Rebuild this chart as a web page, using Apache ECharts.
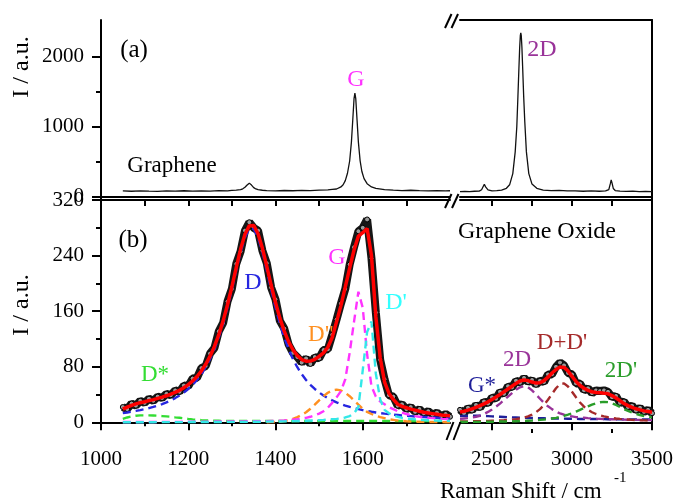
<!DOCTYPE html>
<html><head><meta charset="utf-8">
<script src="https://cdn.jsdelivr.net/npm/echarts@6/dist/echarts.min.js"></script>
<style>html,body{margin:0;padding:0;background:#fff}#c{width:679px;height:502px}</style>
</head><body><div id="c"></div>
<script>
// ---------- Panel (a): Graphene ----------
const grLx = [1050,1070,1090,1110,1130,1150,1170,1190,1210,1230,1250,1270,1290,1300,1310,1320,1325,1330,1335,1340,1345,1350,1355,1360,1370,1380,1400,1420,1440,1460,1480,1500,1520,1530,1540,1550,1555,1560,1565,1570,1574,1577,1580,1582,1584,1587,1590,1594,1598,1603,1610,1620,1630,1650,1670,1690,1710,1730,1750,1770,1790,1800];
const grLy = [82,78,84,80,77,83,79,85,80,84,81,87,84,90,94,101,113,135,168,194,166,130,111,100,92,87,84,89,85,90,87,94,98,104,110,140,170,230,335,510,780,1085,1400,1481,1400,1090,780,512,360,258,186,140,118,100,93,88,92,86,84,88,83,85];
const grRx = [2300,2330,2360,2390,2420,2435,2445,2452,2460,2475,2500,2530,2560,2590,2610,2630,2645,2655,2662,2668,2673,2677,2680,2683,2687,2692,2698,2705,2715,2730,2750,2780,2820,2870,2920,2970,3020,3070,3120,3170,3210,3230,3240,3245,3250,3258,3270,3300,3340,3380,3420,3460,3500];
const grRy = [74,77,72,78,80,100,145,177,140,98,84,86,95,120,170,330,640,1000,1432,1820,2130,2300,2340,2300,2132,1820,1433,1066,640,330,180,120,95,88,90,84,82,78,83,78,82,102,190,240,198,118,88,80,76,79,74,77,73];
const yTicksA = [0, 1000, 2000];
const yMinorA = [500, 1500];

// ---------- Panel (b): Graphene Oxide, 1000-1800 ----------
const xL = [1050,1060,1070,1080,1090,1100,1110,1120,1130,1140,1150,1160,1170,1180,1190,1200,1210,1220,1230,1240,1250,1260,1270,1280,1290,1300,1310,1320,1330,1340,1350,1360,1370,1380,1390,1400,1410,1420,1430,1440,1450,1460,1470,1480,1490,1500,1510,1520,1530,1540,1550,1560,1570,1580,1590,1600,1610,1620,1630,1640,1650,1660,1670,1680,1690,1700,1710,1720,1730,1740,1750,1760,1770,1780,1790,1800];
const expL = [22,19,27,24,31,28,34,31,37,35, 41,39,46,44,53,52,63,64,78,81, 99,107,131,143,174,192,228,246,276,288, 280,276,247,229,194,177,146,135,112,100, 94,86,92,84,94,92,104,105,126,148, 171,192,227,252,275,280,292,236,158,90, 62,39,37,24,26,19,22,15,19,13, 16,11,14,9,12,8];
const fitL = [18.9,21.8,24.3,26.6,28.3,29.6,31.2,32.7,34.5,36.2, 38.2,40.6,43.1,46.1,49.9,54.2,59.5,66.0,73.8,83.5, 95.2,109.2,126.1,146.0,169.2,195.1,222.7,249.2,270.7,283.1, 283.4,271.5,250.5,224.5,197.6,172.4,150.0,131.2,116.1,104.4, 96.0,90.4,88.0,88.1,90.6,95,100,108,122,145, 168,195,222,248,268,273,279,240,152,93, 58,42,33,26,23,21,19,17.5,16,14.5, 13.5,12.5,11.5,10.5,10,9.5];
const cD = [13.3,14.2,15.2,16.4,17.6,18.9,20.5,22.2,24.1,26.3, 28.8,31.6,34.9,38.6,43.0,48.0,54.0,61.0,69.3,79.3, 91.2,105.3,122.2,142.1,165.3,191.1,218.6,244.9,266.2,278.4, 278.4,266.2,244.9,218.6,191.1,165.3,142.1,122.2,105.3,91.2, 79.3,69.3,61.0,54.0,48.0,43.0,38.6,34.9,31.6,28.8, 26.3,24.1,22.2,20.5,18.9,17.6,16.4,15.2,14.2,13.3, 12.5,11.8,11.1,10.5,9.9,9.4,8.9,8.4,8.0,7.6, 7.2,6.9,6.6,6.3,6.0,5.8];
const cDstar = [5,7,8.5,9.5,10,10,10,9.8,9.5,9, 8.5,8,7.2,6.5,5.8,5,4.3,3.7,3.2,2.8, 2.5,2.3,2.2,2.1,2,2,2,2,2,2, 2,2,2,2,2,2,2,2,2,2, 2,2,2,2,2,2,2,2,2,2, 2,2,2,2,2,2,2,2,2,2, 2,2,2,2,2,2,2,2,2,2, 2,2,2,2,2,2];
const cDdd = [null,null,null,null,null,null,null,null,null,null, null,null,null,null,null,null,null,null,null,null, null,null,null,null,null,null,null,null,null,null, null,null,null,0.1,0.3,0.6,1.1,1.9,3.2,5, 7.5,10.5,14.5,19.5,25.4,31.7,37.6,42.6,45.9,47, 45.9,42.6,37.6,31.7,25.4,19.5,15,12,9.5,7.5, 6,4.5,3.5,2.5,2,1.5,1.2,1,0.8,0.6, 0.5,0.4,0.3,0.3,0.2,0.2];
const cG = [0.4,0.4,0.4,0.5,0.5,0.5,0.5,0.5,0.6,0.6, 0.6,0.7,0.7,0.7,0.8,0.8,0.8,0.9,0.9,1.0, 1.0,1.1,1.1,1.2,1.2,1.3,1.3,1.4,1.4,1.5, 1.5,1.6,1.7,1.8,1.9,2.0,2.3,2.7,3.2,3.8, 4.5,5.5,6.5,8,10,12.5,16,21,28,36, 45,62,100,145,188,165,98,52,37,30, 26,22,19,16,14,12,10.5,9,8,7, 6.5,6,5.5,5,4.6,4.3];
const cDp = [0.2,0.2,0.2,0.2,0.2,0.2,0.2,0.2,0.3,0.3, 0.3,0.3,0.3,0.3,0.3,0.4,0.4,0.4,0.4,0.4, 0.5,0.5,0.5,0.5,0.6,0.6,0.6,0.7,0.7,0.7, 0.8,0.8,0.9,1.0,1.1,1.2,1.3,1.4,1.5,1.7, 1.9,2.1,2.3,2.5,2.8,3.1,3.5,4.0,4.5,5, 5.7,7,9,13,22,75,130,145,70,33, 18,13,10,8,6.5,5.5,4.8,4.2,3.7,3.3, 3,2.7,2.5,2.3,2.1,2];

// ---------- Panel (b): Graphene Oxide, 2300-3500 ----------
const xR = [2300,2325,2350,2375,2400,2425,2450,2475,2500,2525,2550,2575,2600,2625,2650,2675,2700,2725,2750,2775,2800,2825,2850,2875,2900,2925,2950,2975,3000,3025,3050,3075,3100,3125,3150,3175,3200,3225,3250,3275,3300,3325,3350,3375,3400,3425,3450,3475,3500];
const expR = [18,13,21,17,25,21,30,27,36,34, 44,41,52,50,60,57,64,58,61,54, 60,58,69,69,80,86,82,71,69,56, 56,46,49,42,46,45,46,44,36,38, 28,30,22,24,17,21,15,18,13];
const fitR = [15,16,17.5,19.5,21.5,24,26.5,29.5,33,36.5, 40,44,48,52,56,59.5,61,60,58,56.5, 57,60,65,71,76,79.5,79,74,66,59, 53,49,46,44,43,42.5,42,41,38.5,35, 31,27,24,21.5,19.5,18,16.5,15.5,14.5];
const cGstar = [9,9.3,9.5,9.6,9.6,9.4,9.2,8.9,8.6,8.3, 8,7.7,7.4,7.1,6.9,6.7,6.5,6.3,6.2,6.0, 5.9,5.8,5.7,5.6,5.5,5.4,5.3,5.2,5.1,5.0, 4.9,4.9,4.8,4.7,4.7,4.6,4.6,4.5,4.5,4.4, 4.4,4.3,4.3,4.2,4.2,4.1,4.1,4.0,4.0];
const c2D = [5,5.5,6,7,8,9.5,12,15,18.5,22.5, 27,32,37,42,47,50.5,52,50.5,46,40, 34,28,23,19,15.5,13,11,9.5,8.5,7.5, 7,6.5,6,5.6,5.3,5,4.8,4.6,4.4,4.2, 4,3.9,3.8,3.7,3.6,3.5,3.4,3.3,3.2];
const cDDp = [1.2,1.3,1.4,1.5,1.6,1.7,1.9,2.0,2.2,2.4, 2.7,3.0,3.4,3.9,4.6,5.5,6.8,8.5,11,14.5, 19,25,32.5,41,49,55,56,51.5,44,36, 28.5,22.5,18,14.5,12,10,8.5,7.3,6.3,5.5, 4.9,4.4,4,3.6,3.3,3,2.8,2.6,2.4];
const c2Dp = [0.5,0.5,0.6,0.6,0.7,0.7,0.8,0.8,0.9,1, 1.1,1.2,1.3,1.4,1.6,1.8,2,2.3,2.6,3, 3.5,4,4.7,5.5,6.5,7.7,9.2,11,13,15.5, 18,20.5,23,25.5,27.5,29,29.5,29,27.5,25, 22,19,16.5,14,12,10.5,9,8,7];
const yTicksB = [0, 80, 160, 240, 320];
const yMinorB = [40, 120, 200, 280];
const xTicksL = [1000, 1200, 1400, 1600];
const xMinorL = [1100, 1300, 1500, 1700];
const xTicksR = [2500, 3000, 3500];
const xMinorR = [2750, 3250];

// ---------- chart ----------
const FONT = 'Liberation Serif';
const pairs = (xs, ys) => xs.map((x, i) => [x, ys[i]]);
const AX = { color: '#000', width: 2 };
const lblStyle = { fontFamily: FONT, fontSize: 21, color: '#000', formatter: v => String(v) };

function xAx(grid, pos, min, max, opt) {
  opt = opt || {};
  return {
    type: 'value', gridIndex: grid, position: pos, min: min, max: max,
    axisLine: { show: opt.line !== false, lineStyle: AX },
    axisTick: opt.ticks ? { show: true, customValues: opt.ticks, length: opt.tlen || 7, inside: !!opt.inside, lineStyle: { color: '#000', width: 2 } } : { show: false },
    axisLabel: opt.labels ? Object.assign({ show: true, customValues: opt.labels, margin: 20 }, lblStyle) : { show: false },
    splitLine: { show: false }
  };
}
function yAx(grid, pos, min, max, opt) {
  opt = opt || {};
  return {
    type: 'value', gridIndex: grid, position: pos, min: min, max: max,
    axisLine: { show: opt.line !== false, lineStyle: AX },
    axisTick: opt.ticks ? { show: true, customValues: opt.ticks, length: opt.tlen || 9, lineStyle: { color: '#000', width: 2 } } : { show: false },
    axisLabel: opt.labels ? Object.assign({ show: true, customValues: opt.labels, margin: 17 }, lblStyle) : { show: false },
    splitLine: { show: false }
  };
}

const xAxes = [
  xAx(0, 'bottom', 1000, 1800, {}),
  xAx(0, 'top', 1000, 1800, {}),
  xAx(1, 'bottom', 2300, 3500, {}),
  xAx(1, 'top', 2300, 3500, {}),
  xAx(2, 'bottom', 1000, 1800, { ticks: xTicksL, labels: xTicksL, tlen: 8 }),
  xAx(2, 'bottom', 1000, 1800, { line: false, ticks: xMinorL, tlen: 4 }),
  xAx(2, 'top', 1000, 1800, { ticks: xTicksL.concat(xMinorL).filter(v => v > 1000), tlen: 6, inside: true }),
  xAx(3, 'bottom', 2300, 3500, { ticks: xTicksR, labels: xTicksR, tlen: 8 }),
  xAx(3, 'bottom', 2300, 3500, { line: false, ticks: xMinorR, tlen: 4 }),
  xAx(3, 'top', 2300, 3500, { ticks: xTicksR.concat(xMinorR).filter(v => v < 3500), tlen: 6, inside: true })
];
const yAxes = [
  yAx(0, 'left', -47, 2524, { ticks: yTicksA, labels: yTicksA }),
  yAx(0, 'left', -47, 2524, { line: false, ticks: yMinorA, tlen: 5 }),
  yAx(1, 'right', -47, 2524, {}),
  yAx(2, 'left', -9.6, 320, { ticks: yTicksB, labels: yTicksB }),
  yAx(2, 'left', -9.6, 320, { line: false, ticks: yMinorB, tlen: 5 }),
  yAx(3, 'right', -9.6, 320, {})
];

function dashed(name, xs, ys, color, xi, yi) {
  return { name: name, type: 'line', xAxisIndex: xi, yAxisIndex: yi, data: pairs(xs, ys), showSymbol: false, symbol: 'none',
    lineStyle: { color: color, width: 2.4, type: [8, 5] }, connectNulls: false, z: 3 };
}
function expSeries(xs, ys, xi, yi) {
  return { type: 'line', xAxisIndex: xi, yAxisIndex: yi, data: pairs(xs, ys), symbol: 'circle', symbolSize: 5, showAllSymbol: true,
    lineStyle: { color: '#161616', width: 8 }, itemStyle: { color: '#9a9a9a', borderColor: '#000', borderWidth: 1 }, z: 2 };
}
function fit(xs, ys, xi, yi) {
  return { type: 'line', xAxisIndex: xi, yAxisIndex: yi, data: pairs(xs, ys), symbol: 'none', lineStyle: { color: '#ff0000', width: 3.5 }, z: 5 };
}

const series = [
  { type: 'line', xAxisIndex: 0, yAxisIndex: 0, data: pairs(grLx, grLy), symbol: 'none', lineStyle: { color: '#111', width: 1.3 } },
  { type: 'line', xAxisIndex: 2, yAxisIndex: 2, data: pairs(grRx, grRy), symbol: 'none', lineStyle: { color: '#111', width: 1.3 } },
  expSeries(xL, expL, 4, 3),
  dashed('D', xL, cD, '#2626e0', 4, 3),
  dashed('D*', xL, cDstar, '#33dd33', 4, 3),
  dashed('D"', xL, cDdd, '#ff9020', 4, 3),
  dashed('G', xL, cG, '#ff33ff', 4, 3),
  dashed('Dp', xL, cDp, '#33e8e8', 4, 3),
  fit(xL, fitL, 4, 3),
  expSeries(xR, expR, 7, 5),
  dashed('G*', xR, cGstar, '#1f1f99', 7, 5),
  dashed('2D', xR, c2D, '#993399', 7, 5),
  dashed('D+D\'', xR, cDDp, '#a52a2a', 7, 5),
  dashed('2D\'', xR, c2Dp, '#2a9d2a', 7, 5),
  fit(xR, fitR, 7, 5)
];

function txt(x, y, s, size, color, extra) {
  return Object.assign({ type: 'text', x: x, y: y, z: 100,
    style: { text: s, font: size + 'px "' + FONT + '"', fill: color || '#000', align: 'center', verticalAlign: 'middle', textAlign: 'center', textVerticalAlign: 'middle' } }, extra || {});
}
function slash(x1, y1, x2, y2) {
  return { type: 'line', z: 100, shape: { x1: x1, y1: y1, x2: x2, y2: y2 }, style: { stroke: '#000', lineWidth: 2 } };
}

const graphic = [
  txt(134, 50, '(a)', 25),
  txt(172, 166, 'Graphene', 23),
  txt(356, 80, 'G', 24, '#ff33ff'),
  txt(542, 50, '2D', 24, '#993399'),
  txt(133, 240, '(b)', 25),
  txt(253, 283, 'D', 24, '#2626e0'),
  txt(155, 375, 'D*', 23, '#33dd33'),
  txt(321, 335, 'D"', 23, '#ff9020'),
  txt(337, 258, 'G', 24, '#ff33ff'),
  txt(396, 303, "D'", 24, '#33ffff'),
  txt(537, 232, 'Graphene Oxide', 24),
  txt(482, 386, 'G*', 23, '#1f1f99'),
  txt(517, 360, '2D', 23, '#993399'),
  txt(562, 343, "D+D'", 23, '#a52a2a'),
  txt(621, 371, "2D'", 23, '#2a9d2a'),
  txt(22, 67, 'I / a.u.', 24, '#000', { rotation: Math.PI / 2 }),
  txt(22, 305, 'I / a.u.', 24, '#000', { rotation: Math.PI / 2 }),
  { type: 'text', x: 440, y: 492, z: 100, style: { text: 'Raman Shift / cm', font: '23px "' + FONT + '"', fill: '#000', align: 'left', verticalAlign: 'middle', textAlign: 'left', textVerticalAlign: 'middle' } },
  { type: 'text', x: 614, y: 478, z: 100, style: { text: '-1', font: '15px "' + FONT + '"', fill: '#000', align: 'left', verticalAlign: 'middle', textAlign: 'left', textVerticalAlign: 'middle' } },
  slash(445, 28, 451.5, 14), slash(451.5, 28, 458, 14),
  slash(445, 208, 451.5, 194), slash(452, 208, 458.5, 194),
  slash(446.5, 440, 453.5, 422), slash(453.5, 440, 460.5, 422)
];

const chart = echarts.init(document.getElementById('c'), null, { renderer: 'canvas' });
chart.setOption({
  animation: false,
  backgroundColor: '#fff',
  grid: [
    { left: 101, top: 20, width: 349, height: 180 },
    { left: 460, top: 20, width: 192, height: 180 },
    { left: 101, top: 200, width: 349, height: 229 },
    { left: 460, top: 200, width: 192, height: 229 }
  ],
  xAxis: xAxes,
  yAxis: yAxes,
  series: series,
  graphic: graphic
});
</script></body></html>
